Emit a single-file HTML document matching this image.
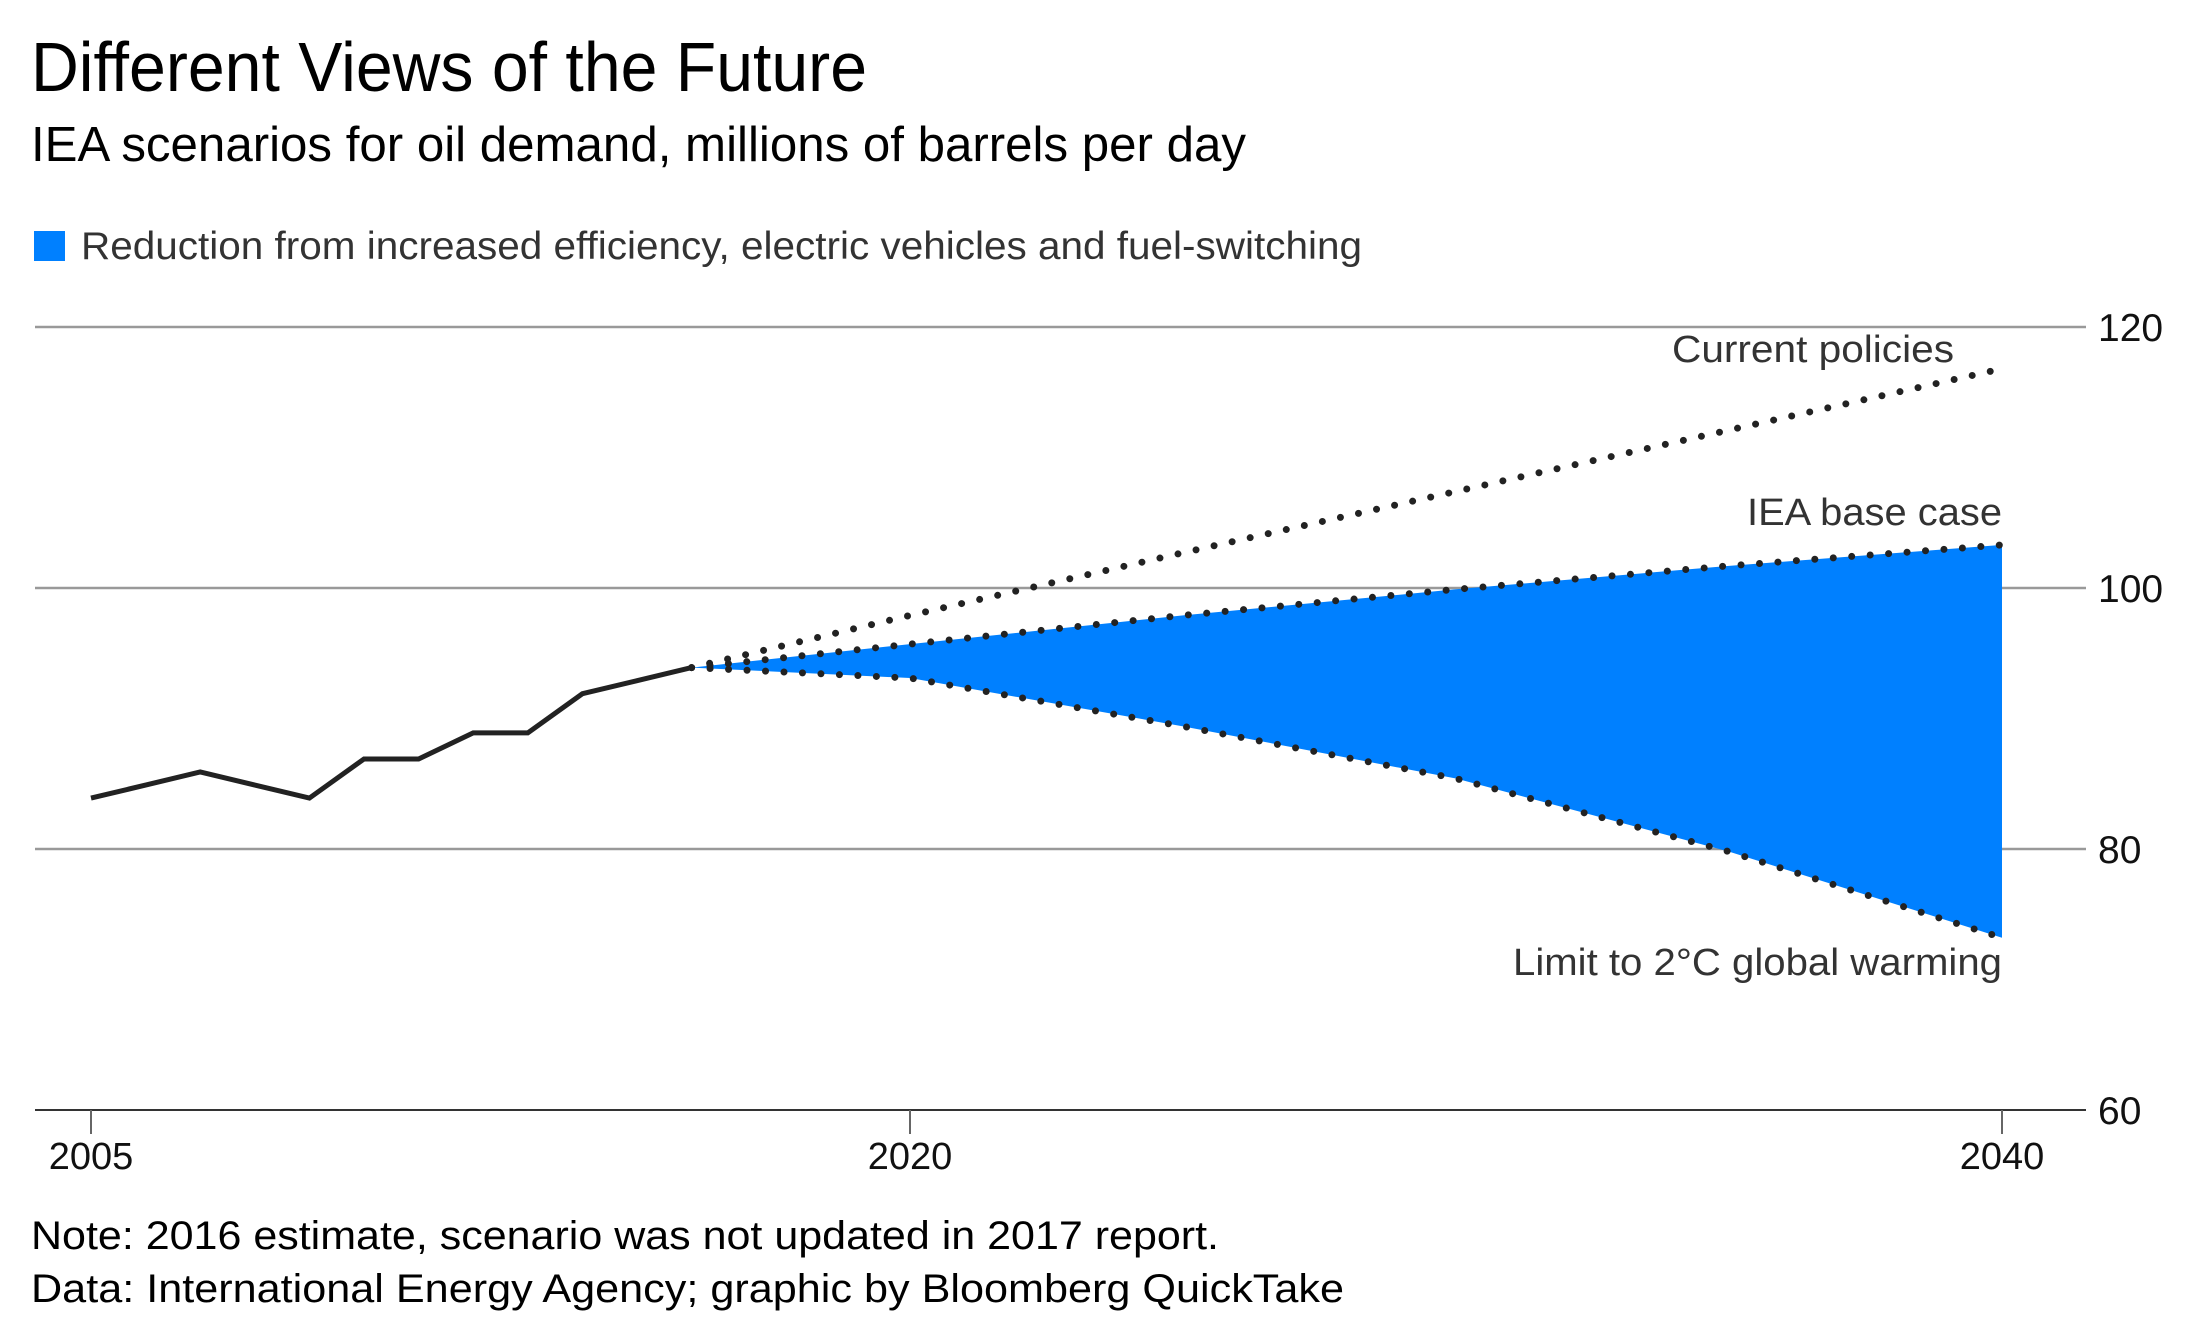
<!DOCTYPE html>
<html><head><meta charset="utf-8"><style>
html,body{margin:0;padding:0;background:#fff;}
svg{display:block;font-family:"Liberation Sans",sans-serif;}
</style></head><body>
<svg id="chart" width="2200" height="1337" viewBox="0 0 2200 1337">
<text x="31" y="91" font-size="70" fill="#000" textLength="836" lengthAdjust="spacingAndGlyphs">Different Views of the Future</text>
<text x="31" y="161" font-size="49" fill="#000" textLength="1215" lengthAdjust="spacingAndGlyphs">IEA scenarios for oil demand, millions of barrels per day</text>
<rect x="34" y="231" width="31" height="30" fill="#0080ff"/>
<text x="81" y="259" font-size="39" fill="#333" textLength="1281" lengthAdjust="spacingAndGlyphs">Reduction from increased efficiency, electric vehicles and fuel-switching</text>
<g id="grid"></g>
<g id="marks"></g>
<g id="labels"></g>
<text x="31" y="1249" font-size="40" fill="#000" textLength="1188" lengthAdjust="spacingAndGlyphs">Note: 2016 estimate, scenario was not updated in 2017 report.</text>
<text x="31" y="1302" font-size="40" fill="#000" textLength="1313" lengthAdjust="spacingAndGlyphs">Data: International Energy Agency; graphic by Bloomberg QuickTake</text>
</svg>
<script>
const yTicks=[60,80,100,120];
const xTicks=[2005,2020,2040];
const histYears=[2005,2006,2007,2008,2009,2010,2011,2012,2013,2014,2015,2016];
const histValues=[83.9,84.9,85.9,84.9,83.9,86.9,86.9,88.9,88.9,91.9,92.9,93.9];
const scenYears=[2016,2020,2025,2030,2035,2040];
const currentPolicies=[93.9,97.9,102.7,107.4,112.1,116.8];
const baseCase=[93.9,95.7,97.9,99.9,101.7,103.3];
const limit2C=[93.9,93.1,89.4,85.4,79.8,73.2];

const NS="http://www.w3.org/2000/svg";
const x=yr=>91+(yr-2005)*(2002-91)/35;
const y=v=>1110-(v-60)*(1110-327)/60;
function mk(tag,attrs,parent){const e=document.createElementNS(NS,tag);for(const k in attrs)e.setAttribute(k,attrs[k]);parent.appendChild(e);return e;}
const grid=document.getElementById('grid'),marks=document.getElementById('marks'),labels=document.getElementById('labels');

yTicks.forEach(t=>{
  const l=mk('line',{x1:35,x2:2086,y1:y(t),y2:y(t),stroke:t===60?'#333':'#999','stroke-width':t===60?2:2.5},grid);
  
  
  const tx=mk('text',{x:2098,y:y(t)+14,'font-size':39,fill:'#111'},grid);
  tx.textContent=t;
  
  
});
xTicks.forEach(t=>{
  const l=mk('line',{x1:x(t),x2:x(t),y1:1110,y2:1134,stroke:'#666','stroke-width':2},grid);
  
  
  const tx=mk('text',{x:x(t),y:1169,'font-size':38,fill:'#111','text-anchor':'middle'},grid);
  tx.textContent=t;
  
  
});

let d='';
scenYears.forEach((yr,i)=>{d+=(i?'L':'M')+x(yr)+','+y(baseCase[i]);});
for(let i=scenYears.length-1;i>=0;i--)d+='L'+x(scenYears[i])+','+y(limit2C[i]);
const area=mk('path',{d:d+'Z',fill:'#0080ff'},marks);



const hp=mk('polyline',{points:histYears.map((yr,i)=>x(yr)+','+y(histValues[i])).join(' '),fill:'none',stroke:'#222','stroke-width':5,'stroke-linejoin':'miter'},marks);



function dotted(vals,name){
  const p=mk('polyline',{points:scenYears.map((yr,i)=>x(yr)+','+y(vals[i])).join(' '),fill:'none',stroke:'#222','stroke-width':7,'stroke-linecap':'round','stroke-dasharray':'0 18.5'},marks);
  
  
}
dotted(currentPolicies,'current-policies-line');
dotted(baseCase,'base-case-line');
dotted(limit2C,'limit-2c-line');

function lab(txt,xx,yy,w,name){
  const t=mk('text',{x:xx,y:yy,'font-size':38,fill:'#333','text-anchor':'end',textLength:w,lengthAdjust:'spacingAndGlyphs'},labels);
  t.textContent=txt;
  
  
}
lab('Current policies',1954,362,282,'current-policies-label');
lab('IEA base case',2002,525,255,'base-case-label');
lab('Limit to 2°C global warming',2002,975,489,'limit-2c-label');
</script>
</body></html>
